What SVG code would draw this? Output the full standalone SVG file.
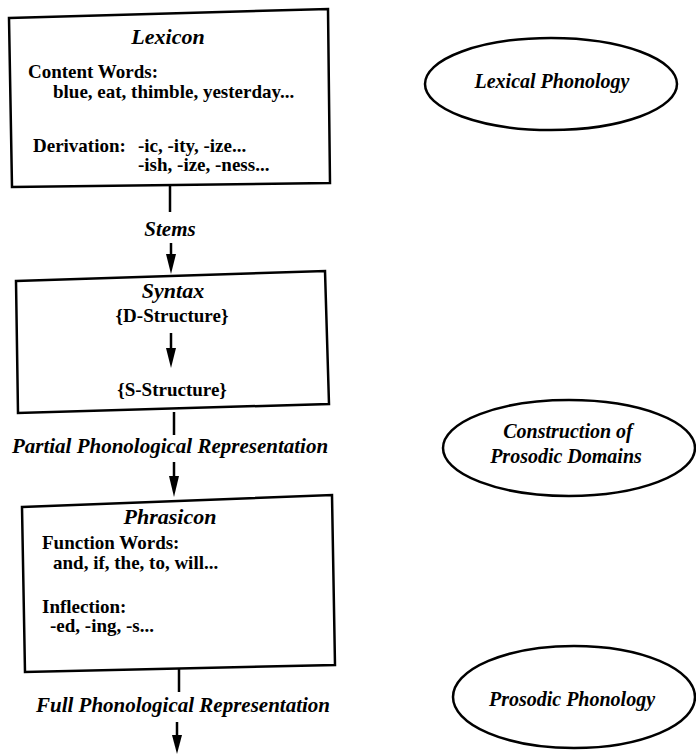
<svg xmlns="http://www.w3.org/2000/svg" width="696" height="756" viewBox="0 0 696 756">
  <style>
    .box { fill: #fff; stroke: #000; stroke-width: 2.5; stroke-linejoin: miter; }
    .oval { fill: #fff; stroke: #000; stroke-width: 2.5; }
    .edge { fill: none; stroke: #000; stroke-width: 2.5; }
    .head { fill: #000; }
    text { font-family: "Liberation Serif", "Times New Roman", serif; fill: #000; }
    .title { font-size: 22px; font-weight: bold; font-style: italic; text-anchor: middle; }
    .body { font-size: 19px; font-weight: bold; }
    .mid { text-anchor: middle; }
    .lbl { font-size: 21px; font-weight: bold; font-style: italic; text-anchor: middle; }
    .olbl { font-size: 20px; font-weight: bold; font-style: italic; text-anchor: middle; }
  </style>
  <rect width="696" height="756" fill="#fff"/>

  <!-- Flow connectors between the three components -->
  <g id="connectors">
    <!-- Lexicon -> Syntax (Stems) -->
    <line class="edge" x1="170" y1="185" x2="170" y2="212"/>
    <line class="edge" x1="171" y1="243" x2="171" y2="258"/>
    <path class="head" d="M166,254 L176,254 L171,274 Z"/>

    <!-- Syntax -> Phrasicon (Partial Phonological Representation) -->
    <line class="edge" x1="174" y1="412" x2="174" y2="435"/>
    <line class="edge" x1="174" y1="462" x2="174" y2="480"/>
    <path class="head" d="M169,476 L179,476 L174,497 Z"/>

    <!-- Phrasicon -> output (Full Phonological Representation) -->
    <line class="edge" x1="179" y1="668" x2="179" y2="692"/>
    <line class="edge" x1="177" y1="722" x2="177" y2="739"/>
    <path class="head" d="M172,735 L182,735 L177,754 Z"/>
  </g>

  <!-- Lexicon -->
  <g id="lexicon">
    <polygon class="box" points="9,18 328,9 330,183 12,187"/>
    <text class="title" x="168" y="44">Lexicon</text>
    <text class="body" x="28" y="78">Content Words:</text>
    <text class="body" x="53" y="98">blue, eat, thimble, yesterday...</text>
    <text class="body" x="33" y="152">Derivation:</text>
    <text class="body" x="138" y="152">-ic, -ity, -ize...</text>
    <text class="body" x="138" y="171">-ish, -ize, -ness...</text>
  </g>

  <text id="lbl-stems" class="lbl" x="170" y="236">Stems</text>

  <!-- Syntax -->
  <g id="syntax">
    <polygon class="box" points="16,281 325,271 329,404 18,413"/>
    <text class="title" x="173" y="298">Syntax</text>
    <text class="body mid" x="172" y="322">{D-Structure}</text>
    <line class="edge" x1="171" y1="333" x2="171" y2="352"/>
    <path class="head" d="M166,348 L176,348 L171,368 Z"/>
    <text class="body mid" x="172" y="396">{S-Structure}</text>
  </g>

  <text id="lbl-partial" class="lbl" x="170" y="453">Partial Phonological Representation</text>

  <!-- Phrasicon -->
  <g id="phrasicon">
    <polygon class="box" points="22,507 332,495 335,665 25,672"/>
    <text class="title" x="170" y="524">Phrasicon</text>
    <text class="body" x="42" y="549">Function Words:</text>
    <text class="body" x="53" y="569">and, if, the, to, will...</text>
    <text class="body" x="42" y="613">Inflection:</text>
    <text class="body" x="50" y="632">-ed, -ing, -s...</text>
  </g>

  <text id="lbl-full" class="lbl" x="183" y="712">Full Phonological Representation</text>

  <!-- Phonological modules -->
  <g id="lexical-phonology">
    <ellipse class="oval" cx="551" cy="84" rx="126" ry="46"/>
    <text class="olbl" x="552" y="88">Lexical Phonology</text>
  </g>

  <g id="prosodic-domains">
    <ellipse class="oval" cx="569" cy="448" rx="126" ry="48"/>
    <text class="olbl" x="568" y="438">Construction of</text>
    <text class="olbl" x="566" y="463">Prosodic Domains</text>
  </g>

  <g id="prosodic-phonology">
    <ellipse class="oval" cx="574" cy="697" rx="121" ry="51"/>
    <text class="olbl" x="572" y="706">Prosodic Phonology</text>
  </g>
</svg>
